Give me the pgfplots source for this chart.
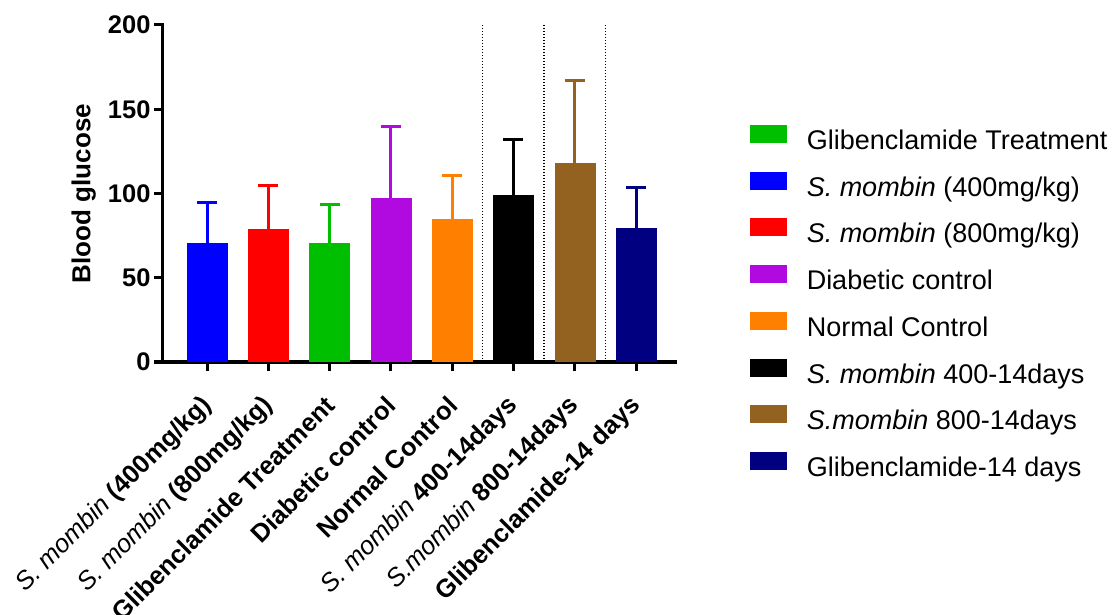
\documentclass[border=0pt]{standalone}
\usepackage{pgfplots}
\pgfplotsset{compat=1.18}
\usepackage{fontspec}
\setmainfont{Liberation Sans}
\definecolor{cgreen}{RGB}{0,190,0}
\definecolor{cblue}{RGB}{0,0,255}
\definecolor{cred}{RGB}{255,0,0}
\definecolor{cpurple}{RGB}{176,10,224}
\definecolor{corange}{RGB}{255,128,0}
\definecolor{cblack}{RGB}{0,0,0}
\definecolor{cbrown}{RGB}{148,98,32}
\definecolor{cnavy}{RGB}{0,0,128}
\begin{document}
\begin{tikzpicture}
\begin{axis}[
  scale only axis, width=512pt, height=337pt,
  xmin=-0.718, xmax=7.636, ymin=0, ymax=200,
  axis x line*=bottom, axis y line*=left,
  axis line style={line width=3pt, line cap=rect},
  ybar, bar width=40pt, bar shift=0pt,
  xtick={0,1,2,3,4,5,6,7},
  xticklabels={{\textit{\mdseries S. mombin} (400mg/kg)},{\textit{\mdseries S. mombin} (800mg/kg)},{Glibenclamide Treatment},{Diabetic control},{Normal Control},{\textit{\mdseries S. mombin} 400-14days},{\textit{\mdseries S.mombin} 800-14days},{Glibenclamide-14 days}},
  ytick={0,50,100,150,200},
  tick align=outside,
  major tick length=9pt,
  tick style={line width=3pt, black},
  x tick label style={yshift=-28pt, xshift=3pt, rotate=45, anchor=east, font=\fontsize{25.5}{30}\selectfont\bfseries},
  y tick label style={font=\fontsize{25.5}{30}\selectfont\bfseries},
  /pgf/number format/assume math mode=true,
  ylabel={Blood glucose},
  every axis y label/.style={at={(axis description cs:-0.155,0.5)}, rotate=90, anchor=center, font=\fontsize{26}{30}\selectfont\bfseries},
  legend cell align=left,
  legend style={at={(axis description cs:1.146,0.703)}, anchor=north west, draw=none, fill=none,
    inner sep=0pt, outer sep=0pt, column sep=20pt, row sep=15.2pt,
    font=\fontsize{27}{32}\selectfont,
    nodes={inner sep=0pt, text height=20pt, text depth=7pt}},
  legend image code/.code={\fill[#1, draw=none] (0pt,0pt) rectangle (37pt,18pt);},
  error bars/y dir=plus, error bars/y explicit,
  error bars/error mark=|,
  error bars/error bar style={line width=3pt},
  error bars/error mark options={line width=3pt, mark size=10pt},
]
\addplot[sharp plot, forget plot, black, line width=1.3pt, dash pattern=on 1.3pt off 1.7pt] coordinates {(4.5,0) (4.5,200)};
\addplot[sharp plot, forget plot, black, line width=1.3pt, dash pattern=on 1.3pt off 1.7pt] coordinates {(5.5,0) (5.5,200)};
\addplot[sharp plot, forget plot, black, line width=1.3pt, dash pattern=on 1.3pt off 1.7pt] coordinates {(6.5,0) (6.5,200)};
\addplot[color=cgreen, fill=cgreen] coordinates {(2,70.6) +- (0,22.6)};
\addlegendentry{Glibenclamide Treatment}
\addplot[color=cblue, fill=cblue] coordinates {(0,70.6) +- (0,23.8)};
\addlegendentry{\textit{S. mombin} (400mg/kg)}
\addplot[color=cred, fill=cred] coordinates {(1,79.0) +- (0,26.0)};
\addlegendentry{\textit{S. mombin} (800mg/kg)}
\addplot[color=cpurple, fill=cpurple] coordinates {(3,97.3) +- (0,42.2)};
\addlegendentry{Diabetic control}
\addplot[color=corange, fill=corange] coordinates {(4,84.9) +- (0,25.5)};
\addlegendentry{Normal Control}
\addplot[color=cblack, fill=cblack] coordinates {(5,99.1) +- (0,32.7)};
\addlegendentry{\textit{S. mombin} 400-14days}
\addplot[color=cbrown, fill=cbrown] coordinates {(6,118.1) +- (0,48.7)};
\addlegendentry{\textit{S.mombin} 800-14days}
\addplot[color=cnavy, fill=cnavy] coordinates {(7,79.5) +- (0,23.8)};
\addlegendentry{Glibenclamide-14 days}
\coordinate (o) at (rel axis cs:0,0);
\coordinate (t) at (rel axis cs:1,1);
\end{axis}
\pgfresetboundingbox
\path ([xshift=-163pt,yshift=-253pt]o) rectangle ([xshift=437pt,yshift=25pt]t);
\end{tikzpicture}
\end{document}
